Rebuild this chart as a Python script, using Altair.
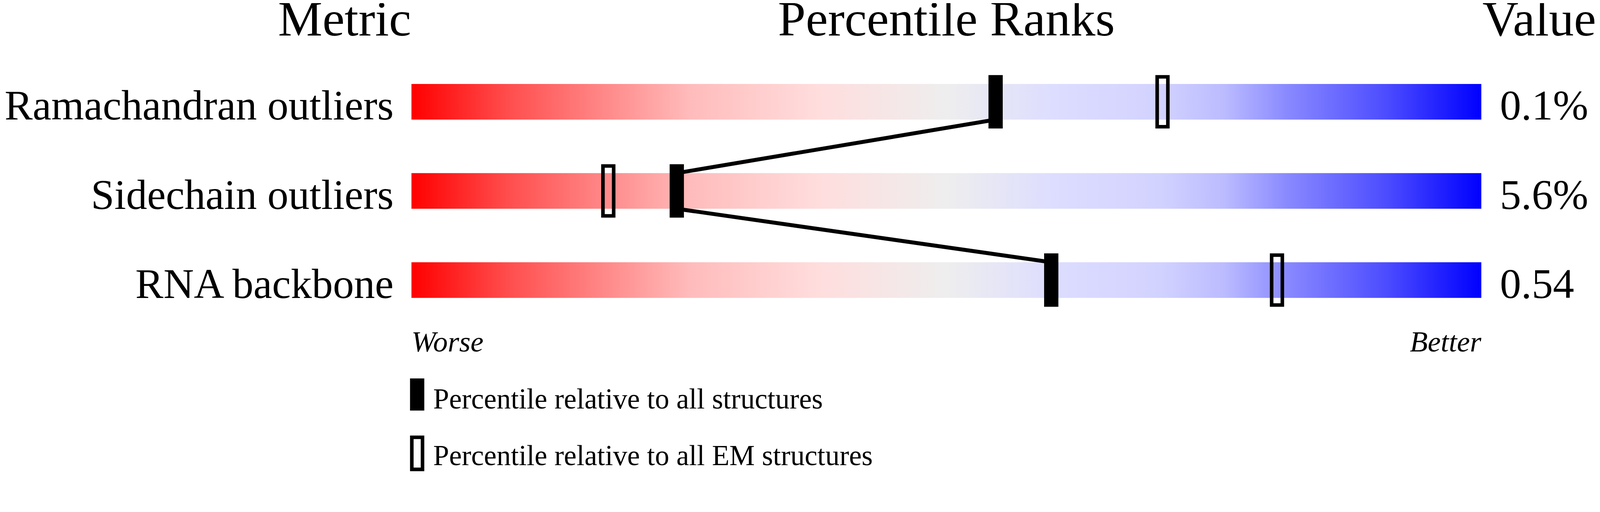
import altair as alt
import pandas as pd

# ---- data ----
metrics = ["Ramachandran outliers", "Sidechain outliers", "RNA backbone"]
values = ["0.1%", "5.6%", "0.54"]
pct_all = [54.6, 24.8, 59.8]   # percentile relative to all structures
pct_em = [70.2, 18.4, 80.9]    # percentile relative to all EM structures
headers = ["Metric", "Percentile Ranks", "Value"]
ends = ["Worse", "Better"]
legend_labels = ["Percentile relative to all structures",
                 "Percentile relative to all EM structures"]

rows = pd.DataFrame({
    "row": list(range(len(metrics))),
    "metric": metrics,
    "value": values,
    "pct_all": pct_all,
    "pct_em": pct_em,
})

line_pts = []
n = len(pct_all)
for i in range(n):
    if i > 0:
        line_pts.append({"order": len(line_pts), "p": pct_all[i], "yy": i - 0.2})
    if i < n - 1:
        line_pts.append({"order": len(line_pts), "p": pct_all[i], "yy": i + 0.2})
line_df = pd.DataFrame(line_pts)

ends_df = pd.DataFrame({"label": ends, "p": [0, 100]})

# ---- layout ----
OFF = 63   # vertical offset observed in the rendered page
W, H = 4469, 1295
PX = 30.0  # pixels per percentile point
X0 = 1145  # pixel of percentile 0
xs = alt.Scale(domain=[-X0 / PX, (W - X0) / PX], nice=False, zero=False)
RY0, RSTEP = 278.0 - OFF, 250.0
ys = alt.Scale(domain=[-RY0 / RSTEP, (H - RY0) / RSTEP], nice=False, zero=False, reverse=True)
FONT = "Liberation Serif"

grad = alt.LinearGradient(
    gradient="linear",
    stops=[
        alt.GradientStop(color="#ff0000", offset=0.0),
        alt.GradientStop(color="#ff4d4d", offset=0.09),
        alt.GradientStop(color="#ff8888", offset=0.18),
        alt.GradientStop(color="#ffbbbb", offset=0.26),
        alt.GradientStop(color="#ffdddd", offset=0.38),
        alt.GradientStop(color="#eeeeee", offset=0.5),
        alt.GradientStop(color="#ddddff", offset=0.6),
        alt.GradientStop(color="#d2d2ff", offset=0.7),
        alt.GradientStop(color="#bbbbff", offset=0.76),
        alt.GradientStop(color="#8888ff", offset=0.82),
        alt.GradientStop(color="#4d4dff", offset=0.91),
        alt.GradientStop(color="#0000ff", offset=1.0),
    ],
    x1=0, x2=1, y1=0, y2=0,
)

base = alt.Chart(rows)

bars = base.transform_calculate(
    lo="0", hi="100", y1="datum.row - 0.2", y2="datum.row + 0.2"
).mark_rect(fill=grad, strokeWidth=0).encode(
    x=alt.X("lo:Q", scale=xs, axis=None),
    x2="hi:Q",
    y=alt.Y("y1:Q", scale=ys, axis=None),
    y2="y2:Q",
)

line = alt.Chart(line_df).mark_line(color="black", strokeWidth=11).encode(
    x=alt.X("p:Q", scale=xs, axis=None),
    y=alt.Y("yy:Q", scale=ys, axis=None),
    order="order:Q",
)

black = base.transform_calculate(
    a=f"datum.pct_all - {20 / PX}", b=f"datum.pct_all + {20 / PX}",
    y1="datum.row - 0.3", y2="datum.row + 0.3",
).mark_rect(color="black").encode(
    x=alt.X("a:Q", scale=xs, axis=None), x2="b:Q",
    y=alt.Y("y1:Q", scale=ys, axis=None), y2="y2:Q",
)

hollow = base.transform_calculate(
    a=f"datum.pct_em - {15 / PX}", b=f"datum.pct_em + {15 / PX}",
    y1="datum.row - 0.28", y2="datum.row + 0.28",
).mark_rect(fill="white", fillOpacity=0, stroke="black", strokeWidth=10).encode(
    x=alt.X("a:Q", scale=xs, axis=None), x2="b:Q",
    y=alt.Y("y1:Q", scale=ys, axis=None), y2="y2:Q",
)

labels = base.transform_calculate(yb="datum.row + 0.2").mark_text(
    align="right", baseline="alphabetic", font=FONT, fontSize=118, color="black"
).encode(
    x=alt.value(1095),
    y=alt.Y("yb:Q", scale=ys, axis=None),
    text="metric:N",
)

vals = base.transform_calculate(yb="datum.row + 0.2").mark_text(
    align="left", baseline="alphabetic", font=FONT, fontSize=119, color="black"
).encode(
    x=alt.value(4197),
    y=alt.Y("yb:Q", scale=ys, axis=None),
    text="value:N",
)

hdr_specs = [("right", 1144), ("center", 2645), ("left", 4148)]
hdr_layers = []
for txt, (al, xp) in zip(headers, hdr_specs):
    hdr_layers.append(
        alt.Chart(pd.DataFrame({"t": [txt]})).mark_text(
            align=al, baseline="alphabetic", font=FONT, fontSize=140, color="black"
        ).encode(x=alt.value(xp), y=alt.value(92 - OFF), text="t:N")
    )

worse = alt.Chart(ends_df.iloc[[0]]).mark_text(
    align="left", baseline="alphabetic", font=FONT, fontSize=82, fontStyle="italic",
    color="black"
).encode(x=alt.X("p:Q", scale=xs, axis=None), y=alt.value(978 - OFF), text="label:N")
better = alt.Chart(ends_df.iloc[[1]]).mark_text(
    align="right", baseline="alphabetic", font=FONT, fontSize=82, fontStyle="italic",
    color="black"
).encode(x=alt.X("p:Q", scale=xs, axis=None), y=alt.value(978 - OFF), text="label:N")

leg_black = alt.Chart(pd.DataFrame({"k": [0]})).mark_rect(color="black").encode(
    x=alt.value(1141), x2=alt.value(1181), y=alt.value(1054 - OFF), y2=alt.value(1144 - OFF)
)
leg_hollow = alt.Chart(pd.DataFrame({"k": [1]})).mark_rect(
    fill="white", fillOpacity=0, stroke="black", strokeWidth=10
).encode(
    x=alt.value(1146), x2=alt.value(1176), y=alt.value(1219 - OFF), y2=alt.value(1309 - OFF)
)
leg_t1 = alt.Chart(pd.DataFrame({"t": [legend_labels[0]]})).mark_text(
    align="left", baseline="alphabetic", font=FONT, fontSize=80, color="black"
).encode(x=alt.value(1206), y=alt.value(1138 - OFF), text="t:N")
leg_t2 = alt.Chart(pd.DataFrame({"t": [legend_labels[1]]})).mark_text(
    align="left", baseline="alphabetic", font=FONT, fontSize=80, color="black"
).encode(x=alt.value(1206), y=alt.value(1297 - OFF), text="t:N")

chart = alt.layer(
    bars, line, black, hollow, labels, vals, *hdr_layers, worse, better,
    leg_black, leg_hollow, leg_t1, leg_t2,
).properties(
    width=W, height=H, padding=0,
    autosize=alt.AutoSizeParams(type="none"),
    background="white",
).configure_view(stroke=None)

chart.save("out.html", embed_options={"renderer": "svg", "actions": False})
